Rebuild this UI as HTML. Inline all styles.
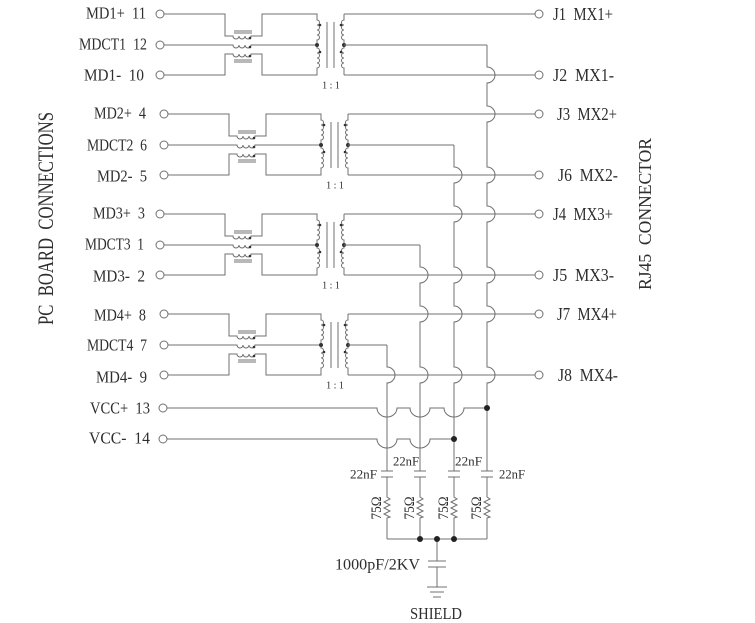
<!DOCTYPE html>
<html><head><meta charset="utf-8"><style>
html,body{margin:0;padding:0;background:#fff;}
svg{display:block;}
text{font-family:"Liberation Serif",serif;fill:#2e2e2e;white-space:pre;}
</style></head><body>
<svg width="755" height="623" viewBox="0 0 755 623" xmlns="http://www.w3.org/2000/svg" xml:space="preserve">
<rect width="755" height="623" fill="#fff"/>
<g fill="none" stroke="#707070" stroke-width="1">

<!-- Group 1 -->
<g transform="translate(0,14)">
<circle cx="160" cy="0" r="4"/><circle cx="160" cy="31" r="4"/><circle cx="160" cy="61" r="4"/>
<path d="M164,0 H225 V22 H233 a3,3 0 0 0 6,0 a3,3 0 0 0 6,0 a3,3 0 0 0 6,0 H262 V0 H317 V6 a2.5,2.5 0 0 1 0,5 a2.5,2.5 0 0 1 0,5 a2.5,2.5 0 0 1 0,5 a2.5,2.5 0 0 1 0,5 V34 a2.5,2.5 0 0 1 0,5 a2.5,2.5 0 0 1 0,5 a2.5,2.5 0 0 1 0,5 a2.5,2.5 0 0 1 0,5 V61 H262 V40 H251 a3,3 0 0 1 -6,0 a3,3 0 0 1 -6,0 a3,3 0 0 1 -6,0 H225 V61 H164"/>
<path d="M164,31 H233 a3,3 0 0 0 6,0 a3,3 0 0 0 6,0 a3,3 0 0 0 6,0 H317"/>
<path d="M234,17 H252 M234,19 H252 M234,46 H252 M234,48 H252 M327,8 V54 M334,8 V54"/>
<path d="M344,0 V6 a2.5,2.5 0 0 0 0,5 a2.5,2.5 0 0 0 0,5 a2.5,2.5 0 0 0 0,5 a2.5,2.5 0 0 0 0,5 V34 a2.5,2.5 0 0 0 0,5 a2.5,2.5 0 0 0 0,5 a2.5,2.5 0 0 0 0,5 a2.5,2.5 0 0 0 0,5 V61"/>
<g fill="#333" stroke="none"><circle cx="317" cy="31" r="2"/><circle cx="344" cy="31" r="2"/><circle cx="320" cy="11" r="1.3"/><circle cx="320" cy="38" r="1.3"/><circle cx="341" cy="11" r="1.3"/><circle cx="341" cy="38" r="1.3"/><circle cx="250" cy="24" r="1.3"/><circle cx="250" cy="33" r="1.3"/><circle cx="250" cy="42" r="1.3"/></g>
</g>

<!-- Group 2 -->
<g transform="translate(4,114)">
<circle cx="160" cy="0" r="4"/><circle cx="160" cy="31" r="4"/><circle cx="160" cy="61" r="4"/>
<path d="M164,0 H225 V22 H233 a3,3 0 0 0 6,0 a3,3 0 0 0 6,0 a3,3 0 0 0 6,0 H262 V0 H317 V6 a2.5,2.5 0 0 1 0,5 a2.5,2.5 0 0 1 0,5 a2.5,2.5 0 0 1 0,5 a2.5,2.5 0 0 1 0,5 V34 a2.5,2.5 0 0 1 0,5 a2.5,2.5 0 0 1 0,5 a2.5,2.5 0 0 1 0,5 a2.5,2.5 0 0 1 0,5 V61 H262 V40 H251 a3,3 0 0 1 -6,0 a3,3 0 0 1 -6,0 a3,3 0 0 1 -6,0 H225 V61 H164"/>
<path d="M164,31 H233 a3,3 0 0 0 6,0 a3,3 0 0 0 6,0 a3,3 0 0 0 6,0 H317"/>
<path d="M234,17 H252 M234,19 H252 M234,46 H252 M234,48 H252 M327,8 V54 M334,8 V54"/>
<path d="M344,0 V6 a2.5,2.5 0 0 0 0,5 a2.5,2.5 0 0 0 0,5 a2.5,2.5 0 0 0 0,5 a2.5,2.5 0 0 0 0,5 V34 a2.5,2.5 0 0 0 0,5 a2.5,2.5 0 0 0 0,5 a2.5,2.5 0 0 0 0,5 a2.5,2.5 0 0 0 0,5 V61"/>
<g fill="#333" stroke="none"><circle cx="317" cy="31" r="2"/><circle cx="344" cy="31" r="2"/><circle cx="320" cy="11" r="1.3"/><circle cx="320" cy="38" r="1.3"/><circle cx="341" cy="11" r="1.3"/><circle cx="341" cy="38" r="1.3"/><circle cx="250" cy="24" r="1.3"/><circle cx="250" cy="33" r="1.3"/><circle cx="250" cy="42" r="1.3"/></g>
</g>

<!-- Group 3 -->
<g transform="translate(0,214)">
<circle cx="160" cy="0" r="4"/><circle cx="160" cy="31" r="4"/><circle cx="160" cy="61" r="4"/>
<path d="M164,0 H225 V22 H233 a3,3 0 0 0 6,0 a3,3 0 0 0 6,0 a3,3 0 0 0 6,0 H262 V0 H317 V6 a2.5,2.5 0 0 1 0,5 a2.5,2.5 0 0 1 0,5 a2.5,2.5 0 0 1 0,5 a2.5,2.5 0 0 1 0,5 V34 a2.5,2.5 0 0 1 0,5 a2.5,2.5 0 0 1 0,5 a2.5,2.5 0 0 1 0,5 a2.5,2.5 0 0 1 0,5 V61 H262 V40 H251 a3,3 0 0 1 -6,0 a3,3 0 0 1 -6,0 a3,3 0 0 1 -6,0 H225 V61 H164"/>
<path d="M164,31 H233 a3,3 0 0 0 6,0 a3,3 0 0 0 6,0 a3,3 0 0 0 6,0 H317"/>
<path d="M234,17 H252 M234,19 H252 M234,46 H252 M234,48 H252 M327,8 V54 M334,8 V54"/>
<path d="M344,0 V6 a2.5,2.5 0 0 0 0,5 a2.5,2.5 0 0 0 0,5 a2.5,2.5 0 0 0 0,5 a2.5,2.5 0 0 0 0,5 V34 a2.5,2.5 0 0 0 0,5 a2.5,2.5 0 0 0 0,5 a2.5,2.5 0 0 0 0,5 a2.5,2.5 0 0 0 0,5 V61"/>
<g fill="#333" stroke="none"><circle cx="317" cy="31" r="2"/><circle cx="344" cy="31" r="2"/><circle cx="320" cy="11" r="1.3"/><circle cx="320" cy="38" r="1.3"/><circle cx="341" cy="11" r="1.3"/><circle cx="341" cy="38" r="1.3"/><circle cx="250" cy="24" r="1.3"/><circle cx="250" cy="33" r="1.3"/><circle cx="250" cy="42" r="1.3"/></g>
</g>

<!-- Group 4 -->
<g transform="translate(4,314)">
<circle cx="160" cy="0" r="4"/><circle cx="160" cy="31" r="4"/><circle cx="160" cy="61" r="4"/>
<path d="M164,0 H225 V22 H233 a3,3 0 0 0 6,0 a3,3 0 0 0 6,0 a3,3 0 0 0 6,0 H262 V0 H317 V6 a2.5,2.5 0 0 1 0,5 a2.5,2.5 0 0 1 0,5 a2.5,2.5 0 0 1 0,5 a2.5,2.5 0 0 1 0,5 V34 a2.5,2.5 0 0 1 0,5 a2.5,2.5 0 0 1 0,5 a2.5,2.5 0 0 1 0,5 a2.5,2.5 0 0 1 0,5 V61 H262 V40 H251 a3,3 0 0 1 -6,0 a3,3 0 0 1 -6,0 a3,3 0 0 1 -6,0 H225 V61 H164"/>
<path d="M164,31 H233 a3,3 0 0 0 6,0 a3,3 0 0 0 6,0 a3,3 0 0 0 6,0 H317"/>
<path d="M234,17 H252 M234,19 H252 M234,46 H252 M234,48 H252 M327,8 V54 M334,8 V54"/>
<path d="M344,0 V6 a2.5,2.5 0 0 0 0,5 a2.5,2.5 0 0 0 0,5 a2.5,2.5 0 0 0 0,5 a2.5,2.5 0 0 0 0,5 V34 a2.5,2.5 0 0 0 0,5 a2.5,2.5 0 0 0 0,5 a2.5,2.5 0 0 0 0,5 a2.5,2.5 0 0 0 0,5 V61"/>
<g fill="#333" stroke="none"><circle cx="317" cy="31" r="2"/><circle cx="344" cy="31" r="2"/><circle cx="320" cy="11" r="1.3"/><circle cx="320" cy="38" r="1.3"/><circle cx="341" cy="11" r="1.3"/><circle cx="341" cy="38" r="1.3"/><circle cx="250" cy="24" r="1.3"/><circle cx="250" cy="33" r="1.3"/><circle cx="250" cy="42" r="1.3"/></g>
</g>

<!-- Right wires -->
<path d="M344,14 H535 M344,75 H535 M344,45 H487
M348,114 H535 M348,175 H535 M348,145 H454
M344,214 H535 M344,275 H535 M344,245 H420
M348,314 H535 M348,375 H535 M348,345 H387"/>
<circle cx="539" cy="14" r="4"/><circle cx="539" cy="75" r="4"/>
<circle cx="539" cy="114" r="4"/><circle cx="539" cy="175" r="4"/>
<circle cx="539" cy="214" r="4"/><circle cx="539" cy="275" r="4"/>
<circle cx="539" cy="314" r="4"/><circle cx="539" cy="375" r="4"/>

<!-- Verticals with jumps -->
<path d="M487,45 V67 a8,8 0 0 1 0,16 V106 a8,8 0 0 1 0,16 V167 a8,8 0 0 1 0,16 V206 a8,8 0 0 1 0,16 V267 a8,8 0 0 1 0,16 V306 a8,8 0 0 1 0,16 V367 a8,8 0 0 1 0,16 V471"/>
<path d="M454,145 V167 a8,8 0 0 1 0,16 V206 a8,8 0 0 1 0,16 V267 a8,8 0 0 1 0,16 V306 a8,8 0 0 1 0,16 V367 a8,8 0 0 1 0,16 V471"/>
<path d="M420,245 V267 a8,8 0 0 1 0,16 V306 a8,8 0 0 1 0,16 V367 a8,8 0 0 1 0,16 V471"/>
<path d="M387,345 V367 a8,8 0 0 1 0,16 V471"/>

<!-- Caps & resistors -->
<path d="M381,471 H393 M381,477 H393 M387,477 V497 L390,499 L384,502 L390,505 L384,508 L390,511 L384,514 L390,517 L387,518 V539"/>
<path d="M414,471 H426 M414,477 H426 M420,477 V497 L423,499 L417,502 L423,505 L417,508 L423,511 L417,514 L423,517 L420,518 V539"/>
<path d="M448,471 H460 M448,477 H460 M454,477 V497 L457,499 L451,502 L457,505 L451,508 L457,511 L451,514 L457,517 L454,518 V539"/>
<path d="M481,471 H493 M481,477 H493 M487,477 V497 L490,499 L484,502 L490,505 L484,508 L490,511 L484,514 L490,517 L487,518 V539"/>

<!-- VCC lines -->
<circle cx="163" cy="408" r="4"/><circle cx="163" cy="439" r="4"/>
<path d="M167,408 H377 a10,9 0 0 0 20,0 H410 a10,9 0 0 0 20,0 H444 a10,9 0 0 0 20,0 H487"/>
<path d="M167,439 H377 a10,9 0 0 0 20,0 H410 a10,9 0 0 0 20,0 H454"/>

<!-- Bus and shield -->
<path d="M387,539 H487 M437,539 V561 M428,561 H446 M428,567 H446 M437,567 V587 M427,587 H447 M430,592 H444 M433,597 H441"/>
</g>

<g fill="#222">
<circle cx="487" cy="408" r="3"/><circle cx="454" cy="439" r="3"/>
<circle cx="420" cy="539" r="3"/><circle cx="437" cy="539" r="3"/><circle cx="454" cy="539" r="3"/>
</g>

<!-- 1:1 labels -->
<g font-size="10" text-anchor="middle">
<text x="331" y="88.5">1 : 1</text>
<text x="335" y="188.5">1 : 1</text>
<text x="331" y="288.5">1 : 1</text>
<text x="335" y="388.5">1 : 1</text>
</g>

<!-- Left labels -->
<g font-size="17">
<text x="86" y="18.5" textLength="60" lengthAdjust="spacingAndGlyphs">MD1+  11</text>
<text x="79" y="49.5" textLength="68" lengthAdjust="spacingAndGlyphs">MDCT1  12</text>
<text x="84" y="80.5" textLength="60" lengthAdjust="spacingAndGlyphs">MD1-  10</text>
<text x="94" y="118.5" textLength="52" lengthAdjust="spacingAndGlyphs">MD2+  4</text>
<text x="87" y="150.5" textLength="60" lengthAdjust="spacingAndGlyphs">MDCT2  6</text>
<text x="97" y="181.5" textLength="50" lengthAdjust="spacingAndGlyphs">MD2-  5</text>
<text x="93" y="218.5" textLength="52" lengthAdjust="spacingAndGlyphs">MD3+  3</text>
<text x="85" y="249.5" textLength="59" lengthAdjust="spacingAndGlyphs">MDCT3  1</text>
<text x="93" y="281.5" textLength="52" lengthAdjust="spacingAndGlyphs">MD3-  2</text>
<text x="94" y="320.5" textLength="52" lengthAdjust="spacingAndGlyphs">MD4+  8</text>
<text x="87" y="350.5" textLength="60" lengthAdjust="spacingAndGlyphs">MDCT4  7</text>
<text x="96" y="382.5" textLength="51" lengthAdjust="spacingAndGlyphs">MD4-  9</text>
<text x="90" y="413.5" textLength="60" lengthAdjust="spacingAndGlyphs">VCC+  13</text>
<text x="89" y="443.5" textLength="61" lengthAdjust="spacingAndGlyphs">VCC-  14</text>
</g>

<!-- Right labels -->
<g font-size="18">
<text x="553" y="20" textLength="60" lengthAdjust="spacingAndGlyphs">J1  MX1+</text>
<text x="553" y="81" textLength="61" lengthAdjust="spacingAndGlyphs">J2  MX1-</text>
<text x="557" y="120" textLength="60" lengthAdjust="spacingAndGlyphs">J3  MX2+</text>
<text x="558" y="181" textLength="60" lengthAdjust="spacingAndGlyphs">J6  MX2-</text>
<text x="553" y="220" textLength="60" lengthAdjust="spacingAndGlyphs">J4  MX3+</text>
<text x="553" y="281" textLength="61" lengthAdjust="spacingAndGlyphs">J5  MX3-</text>
<text x="557" y="320" textLength="60" lengthAdjust="spacingAndGlyphs">J7  MX4+</text>
<text x="558" y="381" textLength="60" lengthAdjust="spacingAndGlyphs">J8  MX4-</text>
</g>

<!-- Vertical titles -->
<text x="53" y="218.5" transform="rotate(-90 53 218.5)" text-anchor="middle" font-size="22" textLength="213" lengthAdjust="spacingAndGlyphs">PC  BOARD  CONNECTIONS</text>
<text x="651" y="214" transform="rotate(-90 651 214)" text-anchor="middle" font-size="18" textLength="152" lengthAdjust="spacingAndGlyphs">RJ45  CONNECTOR</text>

<!-- Component labels -->
<g font-size="13">
<text x="350" y="478.5" textLength="27" lengthAdjust="spacingAndGlyphs">22nF</text>
<text x="393" y="465.5" textLength="26" lengthAdjust="spacingAndGlyphs">22nF</text>
<text x="455" y="465.5" textLength="27" lengthAdjust="spacingAndGlyphs">22nF</text>
<text x="499" y="478.5" textLength="26" lengthAdjust="spacingAndGlyphs">22nF</text>
</g>
<g font-size="15" text-anchor="middle">
<text x="381" y="508" transform="rotate(-90 381 508)" textLength="23" lengthAdjust="spacingAndGlyphs">75Ω</text>
<text x="414" y="508" transform="rotate(-90 414 508)" textLength="23" lengthAdjust="spacingAndGlyphs">75Ω</text>
<text x="448" y="508" transform="rotate(-90 448 508)" textLength="23" lengthAdjust="spacingAndGlyphs">75Ω</text>
<text x="481" y="508" transform="rotate(-90 481 508)" textLength="23" lengthAdjust="spacingAndGlyphs">75Ω</text>
</g>
<text x="335" y="569.5" font-size="16" textLength="85" lengthAdjust="spacingAndGlyphs">1000pF/2KV</text>
<text x="410" y="619" font-size="17" textLength="52" lengthAdjust="spacingAndGlyphs">SHIELD</text>
</svg>
</body></html>
